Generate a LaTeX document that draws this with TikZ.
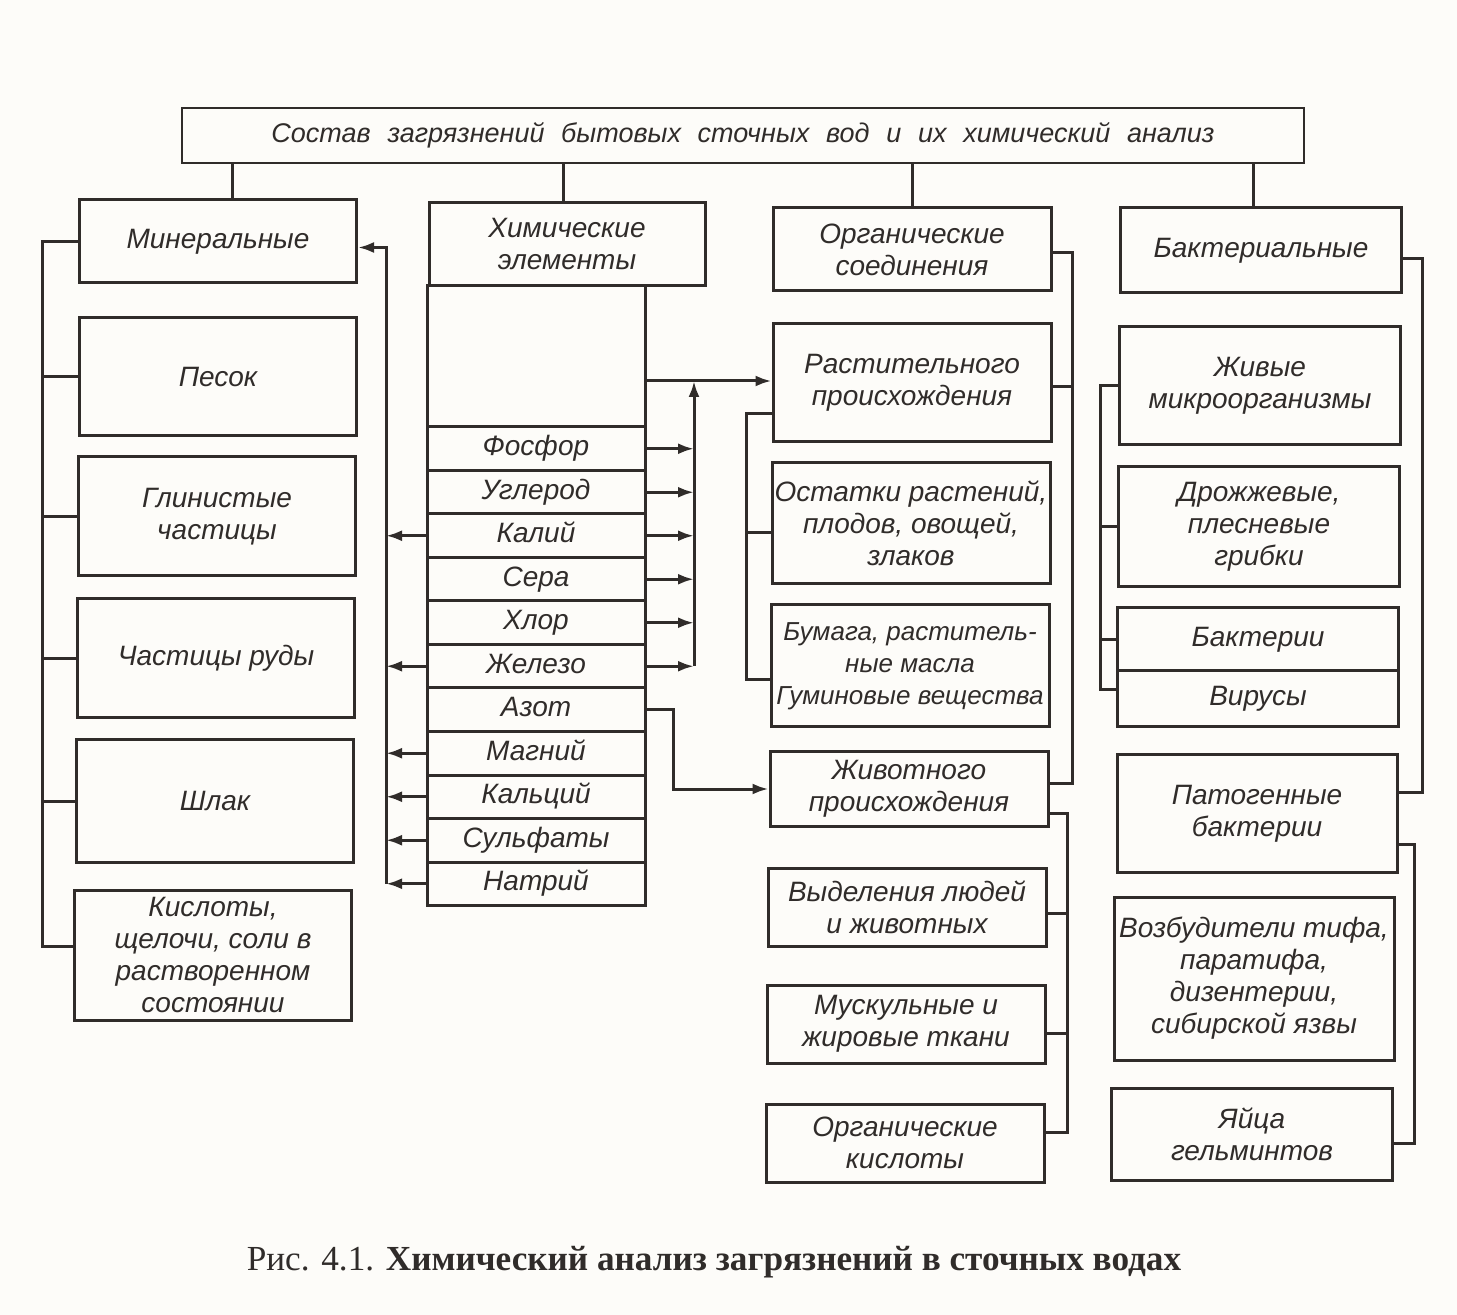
\documentclass[tikz,border=0pt]{standalone}
\usepackage{fontspec}
\setmainfont{Liberation Sans}
\newfontfamily\capfont{Liberation Serif}
\usetikzlibrary{positioning,calc,arrows.meta}
\definecolor{ink}{RGB}{48,44,42}
\definecolor{paper}{RGB}{253,252,249}
\newcommand\widesp{\spaceskip=0.62em plus 0.1em\relax}

\begin{document}
\begin{tikzpicture}[x=0.5pt,y=-0.5pt,
    every node/.style={font=\fontsize{14}{16}\selectfont\itshape,text=ink},
    box/.style={rectangle,draw=ink,line width=1.5pt,align=center,inner sep=0pt},
    elem/.style={box,minimum width=109pt,minimum height=21.75pt,text height=10pt,text depth=3pt},
    link/.style={draw=ink,line width=1.5pt},
    arr/.style={link,-{Latex[length=8pt,width=5.5pt]}}]
  \fill[paper] (0,0) rectangle (1457,1315);

  % title
  \node[box,line width=1.1pt,minimum width=561pt,minimum height=27.5pt,
        font=\fontsize{13.5}{16}\selectfont\itshape]
    (sostav) at (743,135.5) {\widesp Состав загрязнений бытовых сточных вод и их химический анализ};

  % mineral column
  \node[box,minimum width=138.5pt,minimum height=41.5pt] (miner) at (218,241.5) {Минеральные};
  \node[box,minimum width=138.5pt,minimum height=59pt] (pesok) at (218,377) {Песок};
  \node[box,minimum width=138.5pt,minimum height=59.5pt] (glina) at (217,516.5) {Глинистые\\частицы};
  \node[box,minimum width=138.5pt,minimum height=59.5pt] (ruda) at (216,658.5) {Частицы руды};
  \node[box,minimum width=138.5pt,minimum height=61pt] (shlak) at (215,801) {Шлак};
  \node[box,minimum width=138.5pt,minimum height=65pt] (kislot) at (213,955)
    {Кислоты,\\щелочи, соли в\\растворенном\\состоянии};

  % chemical elements
  \node[box,minimum width=138pt,minimum height=41.5pt] (himel) at (567,244.5) {Химические\\элементы};
  \node[box,minimum width=109pt,minimum height=70.5pt] (himgap) at (536,356.5) {};
  \node[elem] (fosfor) at (536,448.75) {Фосфор};
  \node[elem] (uglerod) at (536,492.25) {Углерод};
  \node[elem] (kaliy) at (536,535.75) {Калий};
  \node[elem] (sera) at (536,579.25) {Сера};
  \node[elem] (hlor) at (536,622.75) {Хлор};
  \node[elem] (zhelezo) at (536,666.25) {Железо};
  \node[elem] (azot) at (536,709.75) {Азот};
  \node[elem] (magniy) at (536,753.25) {Магний};
  \node[elem] (kalciy) at (536,796.75) {Кальций};
  \node[elem] (sulfat) at (536,840.25) {Сульфаты};
  \node[elem] (natriy) at (536,883.75) {Натрий};

  % organic column
  \node[box,minimum width=139pt,minimum height=41.5pt] (org) at (912,249.5) {Органические\\соединения};
  \node[box,minimum width=139pt,minimum height=59pt] (rast) at (912,383) {Растительного\\происхождения};
  \node[box,minimum width=139pt,minimum height=60.5pt] (ostat) at (911,523.5)
    {Остатки растений,\\плодов, овощей,\\злаков};
  \node[box,minimum width=139pt,minimum height=61pt,font=\fontsize{13}{16}\selectfont\itshape]
    (bumaga) at (910,666) {Бумага, раститель-\\ные масла\\Гуминовые вещества};
  \node[box,minimum width=139pt,minimum height=37pt] (zhiv) at (909,789) {Животного\\происхождения};
  \node[box,minimum width=139pt,minimum height=39pt] (vydel) at (907,907) {Выделения людей\\и животных};
  \node[box,minimum width=139pt,minimum height=39pt] (musk) at (906,1024) {Мускульные и\\жировые ткани};
  \node[box,minimum width=139pt,minimum height=39pt] (orgkisl) at (905,1143) {Органические\\кислоты};

  % bacterial column
  \node[box,minimum width=140.5pt,minimum height=42.5pt] (bakt) at (1261,250.5) {Бактериальные};
  \node[box,minimum width=140.5pt,minimum height=59pt] (zhivye) at (1260,386) {Живые\\микроорганизмы};
  \node[box,minimum width=140.5pt,minimum height=60pt] (drozh) at (1259,527)
    {Дрожжевые,\\плесневые\\грибки};
  \node[box,minimum width=140.5pt,minimum height=31.5pt] (bakterii) at (1258,639.5) {Бактерии};
  \node[box,minimum width=140.5pt,minimum height=28pt] (virusy) at (1258,699) {Вирусы};
  \node[box,minimum width=140pt,minimum height=58.5pt] (patog) at (1257,813.5) {Патогенные\\бактерии};
  \node[box,minimum width=140pt,minimum height=81.5pt] (vozb) at (1254,978.5)
    {Возбудители тифа,\\паратифа,\\дизентерии,\\сибирской язвы};
  \node[box,minimum width=140.5pt,minimum height=46pt] (yaytsa) at (1252,1134) {Яйца\\гельминтов};

  % caption
  \node[font=\capfont\fontsize{17.6}{20}\selectfont] (caption) at (714,1262)
    {Рис. 4.1. \textbf{Химический анализ загрязнений в сточных водах}};

  % drops from the title
  \coordinate (t1) at (232,0);
  \coordinate (t2) at (563,0);
  \coordinate (t3) at (912,0);
  \coordinate (t4) at (1253,0);
  \draw[link] (sostav.south -| t1) -- (miner.north -| t1);
  \draw[link] (sostav.south -| t2) -- (himel.north -| t2);
  \draw[link] (sostav.south -| t3) -- (org.north -| t3);
  \draw[link] (sostav.south -| t4) -- (bakt.north -| t4);

  % mineral bracket
  \coordinate (minlbus) at (42,0);
  \coordinate (kisltick) at ($(kislot.west)+(0,-9)$);
  \draw[link] (miner.west) -| (minlbus |- kisltick) -- (kisltick);
  \draw[link] (pesok.west) -- (pesok.west -| minlbus);
  \draw[link] (glina.west) -- (glina.west -| minlbus);
  \draw[link] (ruda.west) -- (ruda.west -| minlbus);
  \draw[link] (shlak.west) -- (shlak.west -| minlbus);

  % elements going to the mineral part
  \coordinate (minrbus) at (386,0);
  \coordinate (minarr) at ($(miner.east)+(0,6)$);
  \draw[arr] (natriy.west -| minrbus) |- (minarr);
  \draw[arr] (kaliy.west) -- (kaliy.west -| minrbus);
  \draw[arr] (zhelezo.west) -- (zhelezo.west -| minrbus);
  \draw[arr] (magniy.west) -- (magniy.west -| minrbus);
  \draw[arr] (kalciy.west) -- (kalciy.west -| minrbus);
  \draw[arr] (sulfat.west) -- (sulfat.west -| minrbus);
  \draw[arr] (natriy.west) -- (natriy.west -| minrbus);

  % elements going to the organic part
  \coordinate (orgbus) at (694,0);
  \draw[arr] (fosfor.east) -- (fosfor.east -| orgbus);
  \draw[arr] (uglerod.east) -- (uglerod.east -| orgbus);
  \draw[arr] (kaliy.east) -- (kaliy.east -| orgbus);
  \draw[arr] (sera.east) -- (sera.east -| orgbus);
  \draw[arr] (hlor.east) -- (hlor.east -| orgbus);
  \draw[arr] (zhelezo.east) -- (zhelezo.east -| orgbus);
  \coordinate (rastin) at ($(rast.west)+(0,-2)$);
  \draw[arr] (zhelezo.east -| orgbus) -- (orgbus |- rastin);
  \draw[arr] (himgap.east |- rastin) -- (rastin);
  \draw[arr] (azot.east) -- ++(27,0) |- (zhiv.west);

  % organic brackets
  \coordinate (orgrbus) at (1072,0);
  \coordinate (zhivtop) at ($(zhiv.east)+(0,-6)$);
  \draw[link] ($(org.east)+(0,3)$) -| (orgrbus |- zhivtop) -- (zhivtop);
  \draw[link] ($(rast.east)+(0,4)$) -- ($(rast.east -| orgrbus)+(0,4)$);
  \coordinate (rastlbus) at (746,0);
  \coordinate (rasttick) at ($(rast.west)+(0,31)$);
  \coordinate (bumtick) at ($(bumaga.west)+(0,14)$);
  \draw[link] (rasttick) -| (rastlbus |- bumtick) -- (bumtick);
  \draw[link] ($(ostat.west)+(0,9)$) -- ($(ostat.west -| rastlbus)+(0,9)$);
  \coordinate (zhivrbus) at (1067,0);
  \coordinate (zhivtick) at ($(zhiv.east)+(0,24)$);
  \coordinate (okisltick) at ($(orgkisl.east)+(0,-11)$);
  \draw[link] (zhivtick) -| (zhivrbus |- okisltick) -- (okisltick);
  \draw[link] ($(vydel.east)+(0,6)$) -- ($(vydel.east -| zhivrbus)+(0,6)$);
  \draw[link] ($(musk.east)+(0,9)$) -- ($(musk.east -| zhivrbus)+(0,9)$);

  % bacterial brackets
  \coordinate (baktrbus) at (1422,0);
  \coordinate (bakttick) at ($(bakt.east)+(0,8)$);
  \coordinate (pattop) at ($(patog.east)+(0,-21)$);
  \draw[link] (bakttick) -| (baktrbus |- pattop) -- (pattop);
  \coordinate (baktlbus) at (1100,0);
  \coordinate (virtick) at ($(virusy.west)+(0,-9)$);
  \draw[link] (zhivye.west) -| (baktlbus |- virtick) -- (virtick);
  \draw[link] (drozh.west) -- (drozh.west -| baktlbus);
  \draw[link] (bakterii.west) -- (bakterii.west -| baktlbus);
  \coordinate (patrbus) at (1414,0);
  \coordinate (pattick) at ($(patog.east)+(0,31)$);
  \coordinate (yaytick) at ($(yaytsa.east)+(0,9)$);
  \draw[link] (pattick) -| (patrbus |- yaytick) -- (yaytick);
\end{tikzpicture}
\end{document}
